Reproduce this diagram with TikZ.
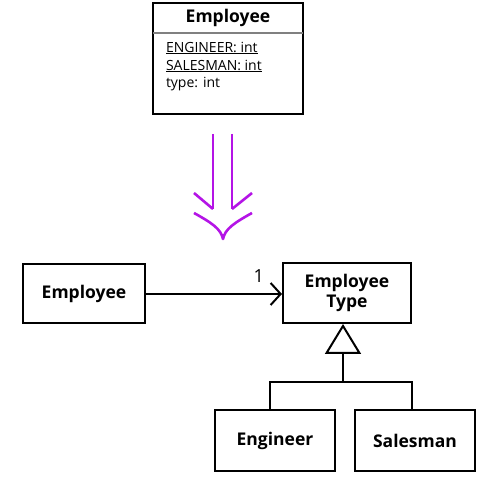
\documentclass[tikz,border=0pt]{standalone}
\usepackage{fontspec}
\setmainfont{Open Sans}
\usetikzlibrary{arrows.meta}
\definecolor{refactor}{RGB}{180,20,230}
\begin{document}
\begin{tikzpicture}[x=1pt, y=-1pt, line width=2pt,
    umlbox/.style = {draw, rectangle, inner sep=0pt, font=\fontsize{17.5}{20}\selectfont\bfseries, align=center},
    attr/.style = {anchor=west, inner sep=0pt, font=\fontsize{14}{16}\selectfont}]
    \useasboundingbox (0,0) rectangle (491,481);
    % class before the refactoring
    \node[umlbox, minimum width=150pt, minimum height=111pt] (old) at (228,58.5) {};
    \node[font=\fontsize{17.5}{20}\selectfont\bfseries] (oldname) at (228,18) {Employee};
    \draw[gray, line width=1.5pt] (153,33) -- (303,33);
    \node[attr] (engattr) at (165,48) {\underline{ENGINEER: int}};
    \node[attr] (salattr) at (165,66) {\underline{SALESMAN: int}};
    \node[attr] (typeattr) at (165,84) {type: int};
    % refactoring arrow
    \draw[refactor, line width=2.6pt] (213,134) -- (213,209);
    \draw[refactor, line width=2.6pt] (232,134) -- (232,209);
    \draw[refactor, line width=2.6pt] (194,193) -- (213,209);
    \draw[refactor, line width=2.6pt] (252,193) -- (232,209);
    \draw[refactor, line width=2.6pt, line join=round] (194,213) .. controls (212,223) and (221,229) .. (223,239)
        .. controls (225,229) and (234,223) .. (252,213);
    % after: type code replaced by subclasses
    \node[umlbox, minimum width=122pt, minimum height=59pt] (emp) at (84,293.5) {Employee};
    \node[umlbox, minimum width=128pt, minimum height=60pt] (type) at (347,293) {Employee\\Type};
    \node[umlbox, minimum width=120pt, minimum height=61pt] (eng) at (275,440.5) {Engineer};
    \node[umlbox, minimum width=120pt, minimum height=61pt] (sal) at (415,440.5) {Salesman};
    \coordinate (joint) at (343,382);
    \draw[-{Straight Barb[length=10pt, width=22pt]}] (emp.east |- 0,294) -- (type.west |- 0,294)
        node[pos=0.83, above=10pt, inner sep=0pt, font=\fontsize{18}{20}\selectfont] (mult) {1};
    \draw[-{Triangle[open, length=30pt, width=36pt]}] (joint) -- (joint |- type.south);
    \draw ([xshift=-5pt]eng.north) |- (joint) -| ([xshift=-3pt]sal.north);
\end{tikzpicture}
\end{document}
